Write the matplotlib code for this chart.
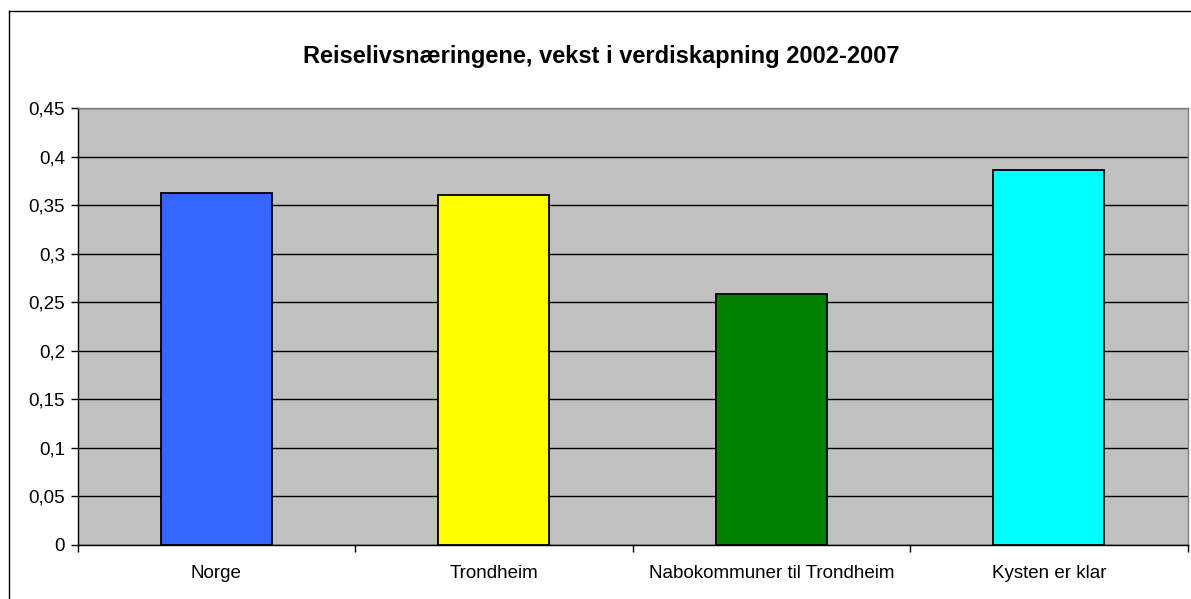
import matplotlib
matplotlib.use('Agg')
import matplotlib.pyplot as plt
from matplotlib.lines import Line2D

plt.rcParams['font.family'] = ['Liberation Sans', 'DejaVu Sans']

# data
categories = ['Norge', 'Trondheim', 'Nabokommuner til Trondheim', 'Kysten er klar']
values = [0.363, 0.361, 0.258, 0.386]
colors = ['#3366FF', '#FFFF00', '#008000', '#00FFFF']
yticks = [0, 0.05, 0.1, 0.15, 0.2, 0.25, 0.3, 0.35, 0.4, 0.45]
ytick_labels = ['0', '0,05', '0,1', '0,15', '0,2', '0,25', '0,3', '0,35', '0,4', '0,45']
title = 'Reiselivsnæringene, vekst i verdiskapning 2002-2007'

W, H = 1191, 599
fig = plt.figure(figsize=(W / 100, H / 100), dpi=100)
ax = fig.add_axes([77.5 / W, 1 - 544.5 / H, (1187.7 - 77.5) / W, (544.5 - 108.3) / H])
ax.set_facecolor('#C0C0C0')

x = range(len(categories))
ax.bar(x, values, width=0.4, color=colors, edgecolor='black', linewidth=1.3, zorder=3)

ax.set_xlim(-0.5, len(categories) - 0.5)
ax.set_ylim(0, 0.45)
ax.set_yticks(yticks)
ax.set_yticklabels(ytick_labels, fontsize=13.5)
ax.set_xticks(list(x))
ax.set_xticklabels(categories, fontsize=13.5)
ax.set_xticks([i - 0.5 for i in range(len(categories) + 1)], minor=True)
ax.tick_params(axis='x', which='major', length=0, pad=15)
ax.tick_params(axis='x', which='minor', length=5, width=1, direction='out')
ax.tick_params(axis='y', length=5, width=1, direction='out', pad=4)

ax.yaxis.grid(True, color='black', linewidth=1, zorder=1)
ax.set_axisbelow(True)
for side in ['left', 'bottom']:
    ax.spines[side].set_color('black')
    ax.spines[side].set_linewidth(1)
for side in ['top', 'right']:
    ax.spines[side].set_color('#808080')
    ax.spines[side].set_linewidth(1)

fig.text(601 / W, 1 - 57 / H, title, ha='center', va='center',
         fontsize=17, fontweight='bold')

# chart area border (left and top visible)
fig.add_artist(Line2D([8.5 / W, 8.5 / W], [0, 1 - 10.5 / H], color='black', linewidth=1))
fig.add_artist(Line2D([8.5 / W, 1], [1 - 10.5 / H, 1 - 10.5 / H], color='black', linewidth=1))

fig.savefig('out.png', dpi=100)
